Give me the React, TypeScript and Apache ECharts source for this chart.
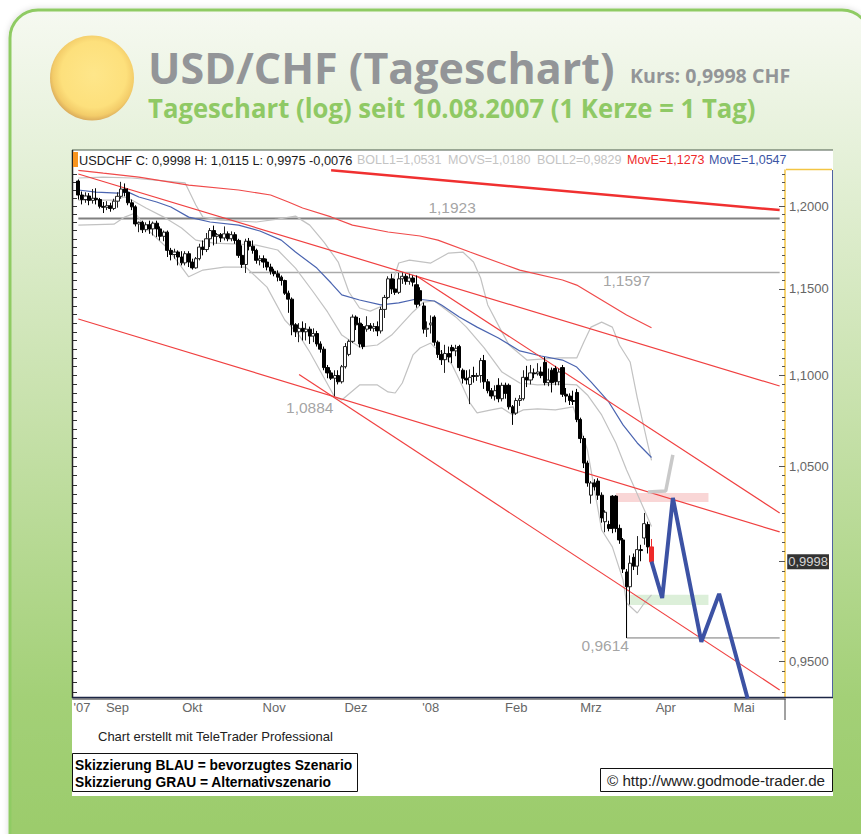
import React, { useEffect, useRef } from "react";
import * as echarts from "echarts";

const Y_MIN = 0.9327;
const Y_MAX = 1.2224;
const CANDLE_SLOTS = 200;

const monthLabels: [string, number][] = [["'07", 2], ["Sep", 12], ["Okt", 33], ["Nov", 56], ["Dez", 79], ["'08", 100], ["Feb", 124], ["Mrz", 145], ["Apr", 166], ["Mai", 188]];
const priceLabels = [0.95, 1.05, 1.1, 1.15, 1.2];
const majorTicks = [0.95, 1.0, 1.05, 1.1, 1.15, 1.2];
const minorTicks = [0.935, 0.94, 0.945, 0.95, 0.955, 0.96, 0.965, 0.97, 0.975, 0.98, 0.985, 0.99, 0.995, 1.0, 1.005, 1.01, 1.015, 1.02, 1.025, 1.03, 1.035, 1.04, 1.045, 1.05, 1.055, 1.06, 1.065, 1.07, 1.075, 1.08, 1.085, 1.09, 1.095, 1.1, 1.105, 1.11, 1.115, 1.12, 1.125, 1.13, 1.135, 1.14, 1.145, 1.15, 1.155, 1.16, 1.165, 1.17, 1.175, 1.18, 1.185, 1.19, 1.195, 1.2, 1.205, 1.21, 1.215, 1.22];

// [open, close, low, high]
const candlesAug = [
  [1.2155,1.2068,1.2040,1.2165],[1.2068,1.2040,1.2010,1.2090],[1.2040,1.2062,1.2020,1.2085],[1.2062,1.2035,1.2005,1.2080],
  [1.2035,1.2048,1.2015,1.2105],[1.2048,1.2040,1.2010,1.2110],[1.2040,1.1998,1.1985,1.2050],[1.1998,1.1992,1.1957,1.2025],
  [1.1992,1.2002,1.1975,1.2030],[1.2002,1.1985,1.1965,1.2020],[1.1985,1.2030,1.1975,1.2045],
];
const candlesSep = [
  [1.2030,1.2060,1.1990,1.2085],[1.2060,1.2105,1.2045,1.2150],[1.2105,1.2085,1.2060,1.2140],[1.2085,1.2020,1.2005,1.2110],
  [1.2020,1.1995,1.1975,1.2040],[1.1995,1.1890,1.1875,1.2005],[1.1890,1.1900,1.1840,1.1905],[1.1900,1.1855,1.1835,1.1910],
  [1.1855,1.1885,1.1840,1.1900],[1.1885,1.1860,1.1830,1.1910],[1.1860,1.1895,1.1820,1.1905],[1.1895,1.1860,1.1810,1.1910],
  [1.1860,1.1815,1.1790,1.1875],[1.1815,1.1840,1.1785,1.1850],[1.1840,1.1730,1.1690,1.1850],[1.1730,1.1705,1.1670,1.1745],
  [1.1705,1.1720,1.1680,1.1740],[1.1720,1.1690,1.1640,1.1730],[1.1690,1.1655,1.1640,1.1725],[1.1655,1.1710,1.1640,1.1725],
  [1.1710,1.1660,1.1630,1.1725],
];
const candlesOkt = [
  [1.1660,1.1625,1.1615,1.1680],[1.1625,1.1680,1.1620,1.1690],[1.1680,1.1750,1.1670,1.1770],[1.1750,1.1735,1.1700,1.1790],
  [1.1735,1.1800,1.1720,1.1835],[1.1800,1.1850,1.1750,1.1865],[1.1850,1.1815,1.1760,1.1880],[1.1815,1.1825,1.1770,1.1835],
  [1.1825,1.1805,1.1780,1.1835],[1.1805,1.1830,1.1790,1.1875],[1.1830,1.1800,1.1785,1.1845],[1.1800,1.1825,1.1785,1.1845],
  [1.1825,1.1790,1.1770,1.1840],[1.1790,1.1700,1.1685,1.1800],[1.1700,1.1645,1.1625,1.1760],[1.1645,1.1785,1.1595,1.1800],
  [1.1785,1.1755,1.1730,1.1805],[1.1755,1.1730,1.1710,1.1790],[1.1730,1.1670,1.1650,1.1740],[1.1670,1.1680,1.1640,1.1700],
  [1.1680,1.1660,1.1625,1.1700],[1.1660,1.1630,1.1610,1.1680],[1.1630,1.1605,1.1585,1.1650],
];
const candlesNov = [
  [1.1605,1.1590,1.1575,1.1620],[1.1590,1.1570,1.1545,1.1610],[1.1570,1.1550,1.1520,1.1580],[1.1550,1.1475,1.1465,1.1555],
  [1.1475,1.1440,1.1360,1.1490],[1.1440,1.1290,1.1230,1.1450],[1.1290,1.1250,1.1220,1.1300],[1.1250,1.1270,1.1190,1.1300],
  [1.1270,1.1250,1.1200,1.1310],[1.1250,1.1265,1.1200,1.1300],[1.1265,1.1225,1.1180,1.1280],[1.1225,1.1240,1.1190,1.1270],
  [1.1240,1.1180,1.1165,1.1255],[1.1180,1.1150,1.1130,1.1195],[1.1150,1.1045,1.1030,1.1165],[1.1045,1.1015,1.0985,1.1060],
  [1.1015,1.0985,1.0975,1.1030],[1.0985,1.1000,1.0884,1.1030],[1.1000,1.0965,1.0950,1.1030],[1.0965,1.1050,1.0955,1.1060],
  [1.1050,1.1165,1.1040,1.1185],[1.1120,1.1195,1.1110,1.1205],[1.1195,1.1335,1.1185,1.1350],
];
const candlesDez = [
  [1.1335,1.1290,1.1260,1.1345],[1.1300,1.1180,1.1160,1.1330],[1.1280,1.1165,1.1150,1.1295],[1.1265,1.1285,1.1250,1.1340],
  [1.1285,1.1270,1.1255,1.1300],[1.1270,1.1280,1.1250,1.1300],[1.1280,1.1255,1.1225,1.1310],[1.1255,1.1380,1.1240,1.1395],
  [1.1380,1.1450,1.1330,1.1465],[1.1450,1.1560,1.1440,1.1575],[1.1560,1.1500,1.1470,1.1590],[1.1500,1.1480,1.1465,1.1560],
  [1.1480,1.1560,1.1470,1.1595],[1.1560,1.1575,1.1530,1.1597],[1.1575,1.1545,1.1525,1.1590],[1.1545,1.1565,1.1525,1.1590],
  [1.1565,1.1540,1.1515,1.1580],[1.1525,1.1410,1.1390,1.1580],[1.1490,1.1430,1.1400,1.1510],[1.1400,1.1265,1.1240,1.1420],
  [1.1265,1.1270,1.1220,1.1310],
];
const candlesJan = [
  [1.1290,1.1300,1.1240,1.1345],[1.1335,1.1190,1.1170,1.1345],[1.1190,1.1120,1.1100,1.1200],[1.1120,1.1090,1.1060,1.1145],
  [1.1090,1.1125,1.1015,1.1175],[1.1125,1.1105,1.1075,1.1165],[1.1160,1.1140,1.1070,1.1175],[1.1140,1.1155,1.1110,1.1175],
  [1.1165,1.1045,1.1025,1.1175],[1.1030,1.0985,1.0955,1.1040],[1.0985,1.0975,1.0950,1.1030],[1.0950,1.0990,1.0840,1.1035],
  [1.1000,1.0995,1.0960,1.1050],[1.0995,1.1000,1.0970,1.1015],[1.1000,1.1085,1.0960,1.1100],[1.1085,1.0965,1.0925,1.1117],
  [1.0965,1.0915,1.0900,1.0980],[1.0915,1.0885,1.0870,1.0930],[1.0885,1.0915,1.0860,1.0945],[1.0945,1.0870,1.0850,1.0985],
  [1.0870,1.0945,1.0855,1.0960],[1.0945,1.0900,1.0870,1.0960],[1.0945,1.0825,1.0810,1.0955],[1.0825,1.0790,1.0725,1.0835],
];
const candlesFeb = [
  [1.0790,1.0860,1.0780,1.0875],[1.0860,1.0870,1.0830,1.0890],[1.0870,1.0990,1.0860,1.1030],[1.0990,1.0975,1.0935,1.1055],
  [1.0975,1.1015,1.0950,1.1060],[1.1015,1.1010,1.0985,1.1040],[1.1010,1.1020,1.1000,1.1070],[1.1020,1.1000,1.0985,1.1050],
  [1.1075,1.0960,1.0945,1.1105],[1.0960,1.0975,1.0940,1.1040],[1.1030,1.0960,1.0905,1.1045],[1.1040,1.0965,1.0945,1.1055],
  [1.0965,1.1020,1.0945,1.1040],[1.1045,1.0895,1.0880,1.1060],[1.0895,1.0885,1.0850,1.0930],[1.0885,1.0860,1.0835,1.0900],
  [1.0860,1.0855,1.0835,1.0915],[1.0905,1.0755,1.0740,1.0925],[1.0755,1.0650,1.0625,1.0765],[1.0650,1.0517,1.0490,1.0665],
  [1.0517,1.0410,1.0390,1.0530],
];
const candlesMrz = [
  [1.0345,1.0410,1.0300,1.0420],[1.0410,1.0390,1.0370,1.0430],[1.0420,1.0345,1.0320,1.0435],[1.0345,1.0225,1.0200,1.0360],
  [1.0205,1.0255,1.0150,1.0265],[1.0190,1.0170,1.0155,1.0210],[1.0340,1.0170,1.0145,1.0345],[1.0340,1.0170,1.0150,1.0345],
  [1.0170,1.0110,1.0090,1.0190],[1.0110,0.9960,0.9940,1.0120],[0.9945,0.9870,0.9614,0.9960],[0.9870,0.9990,0.9780,1.0030],
  [1.0020,0.9975,0.9955,1.0040],[0.9975,1.0060,0.9930,1.0130],[1.0060,1.0055,1.0000,1.0085],[1.0120,1.0195,1.0085,1.0251],
  [1.0190,1.0074,1.0040,1.0205],
];
const lastCandle = [1.0074, 0.9998, 0.9975, 1.0115];

const movERed = [[1,1.2222],[8,1.2204],[18,1.2179],[32,1.2130],[46,1.2099],[55,1.2068],[60,1.2025],[64,1.1988],[72,1.1933],[78,1.1883],[88,1.1841],[97,1.1817],[102,1.1792],[111,1.1720],[121,1.1642],[125,1.1612],[137,1.1553],[141,1.1523],[148,1.1435],[155,1.1347],[162,1.1273]];
const movEBlue = [[1,1.2099],[6,1.2086],[12,1.2080],[15,1.2086],[18,1.2056],[23,1.2025],[27,1.1994],[32,1.1932],[38,1.1902],[46,1.1883],[52,1.1847],[58,1.1792],[62,1.1720],[68,1.1624],[72,1.1535],[75,1.1465],[80,1.1435],[86,1.1406],[91,1.1418],[96,1.1441],[101,1.1429],[103,1.1406],[108,1.1336],[113,1.1277],[119,1.1214],[125,1.1140],[131,1.1111],[137,1.1088],[141,1.1048],[145,1.0964],[150,1.0852],[154,1.0725],[158,1.0626],[162,1.0547]];
const boll1 = [[1,1.2174],[8,1.2180],[16,1.2174],[31,1.2143],[34,1.2006],[36,1.1932],[41,1.1914],[51,1.1902],[57,1.1920],[62,1.1938],[66,1.1883],[70,1.1780],[74,1.1660],[77,1.1482],[80,1.1388],[83,1.1370],[87,1.1406],[89,1.1523],[91,1.1654],[94,1.1671],[100,1.1654],[105,1.1714],[109,1.1720],[112,1.1660],[114,1.1565],[116,1.1406],[120,1.1248],[122,1.1174],[127,1.1088],[136,1.1100],[141,1.1100],[143,1.1191],[145,1.1277],[148,1.1306],[151,1.1277],[153,1.1174],[156,1.1077],[158,1.0875],[161,1.0615],[162,1.0531]];
const movS = [[1,1.2037],[11,1.2037],[14,1.2056],[16,1.2037],[20,1.1988],[25,1.1932],[30,1.1865],[34,1.1792],[39,1.1774],[46,1.1768],[51,1.1762],[57,1.1732],[62,1.1624],[67,1.1482],[71,1.1365],[75,1.1231],[80,1.1162],[85,1.1174],[89,1.1231],[95,1.1365],[98,1.1423],[101,1.1429],[107,1.1336],[110,1.1277],[115,1.1157],[120,1.1020],[125,1.0958],[130,1.0947],[137,1.0952],[141,1.0947],[144,1.0891],[148,1.0780],[152,1.0626],[155,1.0480],[160,1.0267],[162,1.0180]];
const boll2 = [[1,1.1883],[11,1.1889],[14,1.1932],[17,1.1957],[20,1.1865],[26,1.1744],[30,1.1630],[32,1.1572],[36,1.1612],[42,1.1630],[48,1.1630],[54,1.1511],[59,1.1318],[63,1.1231],[66,1.1134],[73,1.0880],[75,1.0863],[80,1.0947],[85,1.0947],[88,1.0908],[90,1.0902],[92,1.0958],[95,1.1117],[97,1.1157],[100,1.1185],[101,1.1162],[103,1.1134],[106,1.1060],[109,1.0935],[111,1.0847],[113,1.0791],[117,1.0808],[120,1.0819],[123,1.0780],[126,1.0808],[130,1.0813],[135,1.0808],[140,1.0825],[144,1.0588],[148,1.0162],[151,1.0074],[154,0.9905],[155,0.9788],[158,0.9738],[160,0.9788],[162,0.9829]];

const trendLong = [[1,1.2199],[198,1.0941]];
const trendSteep = [[96,1.1577],[198,1.0251]];
const trendChannel = [[1,1.1324],[198,1.0152]];
const trendLower = [[63,1.1006],[198,0.9361]];
const trendThick = [[72,1.2222],[198,1.1975]];
const level1923 = [[1,1.1923],[198,1.1923]];
const level1597 = [[49,1.1597],[198,1.1597]];
const level0961 = [[155,0.9830],[155,0.9614],[198,0.9614]];
const scenarioBlue = [[162,0.9998],[165,0.9813],[168,1.0330],[176,0.9595],[181,0.9834],[189,0.9320]];
const scenarioGray = [[161,1.0362],[166,1.0367],[168,1.0561]];
const levelLabels: [number, number, string, string][] = [[106,1.1923,"1,1923","top"],[155,1.1597,"1,1597","bottom"],[66,1.0884,"1,0884","bottom"],[149,0.9614,"0,9614","bottom"]];
const zonePink = [[152,1.0357],[178,1.0309]];
const zoneGreen = [[156,0.9829],[178,0.9778]];

const AXIS_TEXT = "#666666";
const SANS = "'Liberation Sans', Arial, sans-serif";
const comma = (v: number) => v.toFixed(4).replace(".", ",");
const labelGap: Record<string, number> = { "1,1923": 3, "1,1597": 0, "1,0884": 3, "0,9614": 0 };

const categories = Array.from({ length: CANDLE_SLOTS }, (_, i) => {
  const m = monthLabels.find((e) => e[1] === i);
  return m ? m[0] : "";
});

function buildCandles() {
  const body = [...candlesAug, ...candlesSep, ...candlesOkt, ...candlesNov, ...candlesDez, ...candlesJan, ...candlesFeb, ...candlesMrz];
  return [
    ["-", "-", "-", "-"],
    ...body,
    { value: lastCandle, itemStyle: { color: "#ee2a2a", color0: "#ee2a2a", borderColor: "#ee2a2a", borderColor0: "#ee2a2a" } },
  ];
}

const line = (name: string, data: number[][], color: string, width: number, z = 3) => ({
  name, type: "line", data, z, showSymbol: false, symbol: "none", silent: true,
  lineStyle: { color, width }, emphasis: { disabled: true }, animation: false,
});

const headerText = (x: number, text: string, fill: string, size = 12.5, z = 5) => ({
  type: "text", x, y: 160, z,
  style: { text, fill, font: `${size}px ${SANS}`, verticalAlign: "middle" },
});

const gLine = (x1: number, y1: number, x2: number, y2: number, stroke: string, lineWidth = 1, z = 5) => ({
  type: "line", z, shape: { x1, y1, x2, y2 }, style: { stroke, lineWidth },
});

function buildOption() {
  const hiddenY = { type: "log", logBase: 10, min: Y_MIN, max: Y_MAX, splitLine: { show: false }, axisLabel: { show: false } };
  return {
    animation: false,
    backgroundColor: "#ffffff",
    tooltip: { show: false },
    legend: { show: false },
    grid: { left: 73, right: 76, top: 170, bottom: 137, containLabel: false },
    xAxis: {
      type: "category", data: categories, boundaryGap: true, offset: 2,
      axisLine: { lineStyle: { color: "#909090", width: 2 } },
      axisTick: { show: false },
      splitLine: { show: false },
      axisLabel: { interval: 0, hideOverlap: false, color: AXIS_TEXT, fontFamily: SANS, fontSize: 13, margin: 2 },
    },
    yAxis: [
      {
        ...hiddenY, position: "right",
        axisLine: { show: true, lineStyle: { color: "#f3c544", width: 1.5 } },
        axisTick: { show: true, inside: true, length: 6, customValues: majorTicks, lineStyle: { color: "#555555" } },
        axisLabel: { show: true, customValues: priceLabels, formatter: (v: number) => comma(v), color: AXIS_TEXT, fontFamily: SANS, fontSize: 13, margin: 4 },
      },
      {
        ...hiddenY, position: "right",
        axisLine: { show: false },
        axisTick: { show: true, inside: true, length: 3, customValues: minorTicks, lineStyle: { color: "#555555" } },
      },
      {
        ...hiddenY, position: "left",
        axisLine: { show: false },
        axisTick: { show: true, inside: true, length: 4, customValues: minorTicks, lineStyle: { color: "#333333" } },
      },
    ],
    graphic: [
      { type: "rect", z: -10, shape: { x: 10, y: 10, width: 860, height: 860, r: 28 }, style: { fill: { type: "linear", x: 0, y: 0, x2: 0, y2: 1, colorStops: [{ offset: 0, color: "#f6f9f1" }, { offset: 0.16, color: "#e6f1da" }, { offset: 0.45, color: "#c9e2ae" }, { offset: 0.8, color: "#a3d077" }, { offset: 0.95, color: "#9ccc6c" }] }, stroke: "#8fcb63", lineWidth: 3, shadowBlur: 6, shadowColor: "rgba(0,0,0,0.15)" } },
      { type: "ellipse", z: -9, shape: { cx: 92, cy: 78, rx: 42, ry: 42.5 }, style: { fill: { type: "radial", x: 0.52, y: 0.46, r: 0.54, colorStops: [{ offset: 0, color: "#fee68a" }, { offset: 0.72, color: "#fde07c" }, { offset: 0.9, color: "#f3cc69" }, { offset: 1, color: "#dcae5c" }] } } },
      { type: "text", x: 148, y: 67, z: -9, style: { text: "USD/CHF (Tageschart)", fill: "#939598", font: `bold 43px 'Open Sans', sans-serif`, verticalAlign: "middle" } },
      { type: "text", x: 630, y: 75, z: -9, scaleX: 0.98, style: { text: "Kurs: 0,9998 CHF", fill: "#939598", font: `bold 20px 'Open Sans', sans-serif`, verticalAlign: "middle" } },
      { type: "text", x: 148, y: 108, z: -9, scaleX: 0.97, style: { text: "Tageschart (log) seit 10.08.2007 (1 Kerze = 1 Tag)", fill: "#8fc965", font: `bold 26.5px 'Open Sans', sans-serif`, verticalAlign: "middle" } },
      { type: "rect", z: -8, shape: { x: 72, y: 150, width: 761, height: 646 }, style: { fill: "#ffffff" } },
      gLine(72, 150, 833, 150, "#4a5a4a"),
      gLine(72.5, 150, 72.5, 698, "#222222", 1.5),
      gLine(72, 697.5, 833, 697.5, "#1c2645", 1.5),
      gLine(832.5, 170, 832.5, 697, "#5062a0"),
      gLine(786, 169.5, 832, 169.5, "#f3c544", 1.5),
      gLine(785, 699, 785, 720, "#444444"),
      { type: "rect", z: 5, shape: { x: 73, y: 152, width: 5, height: 15 }, style: { fill: "#f7941d" } },
      headerText(79, "USDCHF C: 0,9998 H: 1,0115 L: 0,9975 -0,0076", "#1a1a1a", 12.75),
      headerText(357, "BOLL1=1,0531", "#c4c4c4"),
      headerText(448, "MOVS=1,0180", "#c4c4c4"),
      headerText(537, "BOLL2=0,9829", "#c4c4c4"),
      headerText(627, "MovE=1,1273", "#ee2a2a"),
      headerText(709, "MovE=1,0547", "#3c55a5"),
      { type: "text", x: 98, y: 736, z: 5, style: { text: "Chart erstellt mit TeleTrader Professional", fill: "#222222", font: `13px ${SANS}`, verticalAlign: "middle" } },
      { type: "rect", z: 5, shape: { x: 72.5, y: 753.5, width: 285, height: 38 }, style: { fill: "#ffffff", stroke: "#111111", lineWidth: 1 } },
      { type: "text", x: 75, y: 765, z: 6, style: { text: "Skizzierung BLAU = bevorzugtes Szenario", fill: "#000000", font: `bold 13.8px ${SANS}`, verticalAlign: "middle" } },
      { type: "text", x: 75, y: 782, z: 6, style: { text: "Skizzierung GRAU = Alternativszenario", fill: "#000000", font: `bold 13.8px ${SANS}`, verticalAlign: "middle" } },
      { type: "rect", z: 5, shape: { x: 600.5, y: 768.5, width: 232, height: 23 }, style: { fill: "#ffffff", stroke: "#111111", lineWidth: 1 } },
      { type: "text", x: 607, y: 780, z: 6, style: { text: "© http://www.godmode-trader.de", fill: "#222222", font: `15.2px ${SANS}`, verticalAlign: "middle" } },
    ],
    series: [
      {
        name: "annotations", type: "scatter", z: 2, symbolSize: 0, silent: true,
        data: levelLabels.map((d) => ({ value: [d[0], d[1]], label: { show: true, position: d[3], distance: labelGap[d[2]], formatter: d[2], color: "#8c8c8c", fontFamily: SANS, fontSize: 15.5 } })),
        markArea: {
          silent: true,
          data: [
            [{ xAxis: zonePink[0][0], yAxis: zonePink[0][1], itemStyle: { color: "#f9d6d6" } }, { xAxis: zonePink[1][0], yAxis: zonePink[1][1] }],
            [{ xAxis: zoneGreen[0][0], yAxis: zoneGreen[0][1], itemStyle: { color: "#dcefd9" } }, { xAxis: zoneGreen[1][0], yAxis: zoneGreen[1][1] }],
          ],
        },
      },
      line("Level 1,1923", level1923, "#808080", 2),
      line("Level 1,1597", level1597, "#aaaaaa", 1.5),
      line("Level 0,9614", level0961, "#777777", 1),
      line("BOLL1", boll1, "#c2c2c2", 1.2),
      line("MOVS", movS, "#c2c2c2", 1.2),
      line("BOLL2", boll2, "#c2c2c2", 1.2),
      line("MovE long", movERed, "#f04a4a", 1.2),
      line("MovE short", movEBlue, "#4a64b0", 1.2),
      line("Trend long", trendLong, "#f04040", 1.2),
      line("Trend steep", trendSteep, "#f04040", 1.2),
      line("Trend channel", trendChannel, "#f04040", 1.2),
      line("Trend lower", trendLower, "#f04040", 1.2),
      line("Trend thick", trendThick, "#f03030", 2.5),
      {
        name: "USDCHF", type: "candlestick", z: 4, data: buildCandles(), barWidth: 3.6, silent: true,
        itemStyle: { color: "#ffffff", color0: "#000000", borderColor: "#222222", borderColor0: "#000000", borderWidth: 1 },
      },
      line("Skizzierung GRAU", scenarioGray, "#c9c9c9", 3.5, 5),
      line("Skizzierung BLAU", scenarioBlue, "#3c52a4", 4, 5),
      {
        name: "Kurs", type: "scatter", z: 6, symbolSize: 0, silent: true, clip: false,
        data: [{ value: [199, 0.9998], label: { show: true, position: "right", distance: 4, formatter: "0,9998", color: "#ffffff", backgroundColor: "#000000", fontFamily: SANS, fontSize: 13, padding: [1, 1] } }],
      },
    ],
  };
}

export default function App() {
  const ref = useRef<HTMLDivElement>(null);
  useEffect(() => {
    document.body.style.margin = "0";
    const chart = echarts.init(ref.current!, undefined, { renderer: "svg" });
    chart.setOption(buildOption() as any);
    return () => chart.dispose();
  }, []);
  return <div ref={ref} style={{ width: 861, height: 834 }} />;
}
